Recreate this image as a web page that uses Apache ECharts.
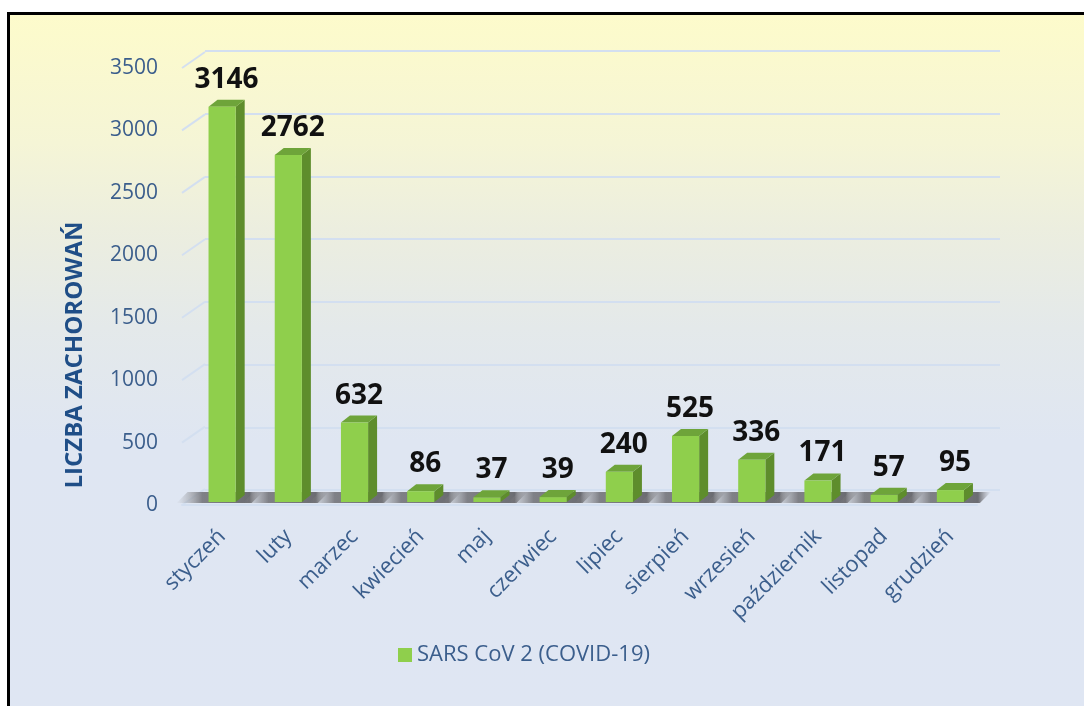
<!DOCTYPE html>
<html>
<head>
<meta charset="utf-8">
<script src="https://cdn.jsdelivr.net/npm/echarts@6/dist/echarts.min.js"></script>
<style>
  html, body { margin: 0; padding: 0; background: #ffffff; width: 1084px; height: 706px; overflow: hidden; }
  #frame { position: absolute; left: 7px; top: 12px; width: 1090px; height: 710px;
    border-left: 3px solid #000; border-top: 3px solid #000;
    background: linear-gradient(to bottom, #fdfbcb 0%, #f5f5d6 18%, #eceedf 30%, #e4e9ea 44%, #dfe6f2 60%, #dfe6f3 100%); }
  #chart { position: absolute; left: 0; top: 0; width: 1084px; height: 706px; }
</style>
</head>
<body>
<div id="frame"></div>
<div id="chart"></div>
<script>
// ---- data ----
const categories = ['styczeń','luty','marzec','kwiecień','maj','czerwiec','lipiec','sierpień','wrzesień','październik','listopad','grudzień'];
const values = [3146, 2762, 632, 86, 37, 39, 240, 525, 336, 171, 57, 95];
const seriesName = 'SARS CoV 2 (COVID-19)';
const axisTitle = 'LICZBA ZACHOROWAŃ';
const yTicks = [0, 500, 1000, 1500, 2000, 2500, 3000, 3500];
const yMin = 0, yMax = 3500, yInterval = 500;

// ---- styles ----
const FONT = '"Open Sans", "Noto Sans", sans-serif';
const axisTextColor = '#3b5e8c';
const gridColor = '#d3dff0';
const DX = 9, DY = -7;        // bar depth offset
const WALL_DX = 23, WALL_DY = -16; // front plane -> back wall offset

const chart = echarts.init(document.getElementById('chart'), null, { renderer: 'canvas' });

function barGeom(params, api) {
  const idx = api.value(0), v = api.value(1);
  const base = api.coord([idx, 0]);
  const top = api.coord([idx, v]);
  const w = api.size([1, 0])[0] * 0.41;
  const xl = base[0] - w / 2, xr = xl + w;
  return { xl, xr, yb: base[1], yt: top[1], w, v };
}

const option = {
  animation: false,
  textStyle: { fontFamily: FONT },
  grid: [
    { left: 189, right: 100.5, top: 62.4, bottom: 204 },  // bars
    { left: 182, right: 107, top: 68, bottom: 201 },       // front plane (labels)
    { left: 205, right: 84, top: 51, bottom: 216 }         // back wall (grid lines)
  ],
  graphic: [
    { type: 'text', x: 75, y: 355, rotation: Math.PI / 2, silent: true,
      style: { text: axisTitle, align: 'center', verticalAlign: 'middle',
        fill: '#1f4e87', fontSize: 24, fontWeight: 'bold', fontFamily: FONT } }
  ],
  xAxis: [
    { type: 'category', gridIndex: 0, data: categories,
      axisLine: { show: false }, axisTick: { show: false },
      axisLabel: { rotate: 45, margin: 31, color: axisTextColor, fontSize: 22, fontFamily: FONT, interval: 0 } },
    { type: 'value', gridIndex: 1, min: 0, max: 1,
      axisLine: { show: true, lineStyle: { color: gridColor, width: 2 } },
      axisTick: { show: false }, axisLabel: { show: false }, splitLine: { show: false } },
    { type: 'value', gridIndex: 2, min: 0, max: 1, show: false }
  ],
  yAxis: [
    { type: 'value', gridIndex: 0, min: yMin, max: yMax, interval: yInterval, show: false },
    { type: 'value', gridIndex: 1, min: yMin, max: yMax, interval: yInterval,
      axisLine: { show: false }, axisTick: { show: false }, splitLine: { show: false },
      axisLabel: { margin: 24, color: axisTextColor, fontSize: 21, fontFamily: FONT,
        formatter: v => String(v) } },
    { type: 'value', gridIndex: 2, min: yMin, max: yMax, interval: yInterval,
      axisLine: { show: false }, axisTick: { show: false }, axisLabel: { show: false },
      splitLine: { show: true, lineStyle: { color: gridColor, width: 2 } } }
  ],
  legend: {
    data: [seriesName], left: 393, top: 639,
    icon: 'rect', itemWidth: 14, itemHeight: 14, itemGap: 6,
    textStyle: { color: axisTextColor, fontSize: 22, fontFamily: FONT }
  },
  series: [
    { // diagonal connectors of the 3D wall grid
      type: 'custom', name: 'wall', xAxisIndex: 1, yAxisIndex: 1, silent: true, z: 1,
      data: yTicks.map(v => [0, v]),
      renderItem: function (params, api) {
        const p = api.coord([0, api.value(1)]);
        return { type: 'line', shape: { x1: p[0], y1: p[1], x2: p[0] + WALL_DX, y2: p[1] + WALL_DY },
          style: { stroke: gridColor, lineWidth: 2 } };
      }
    },
    { // floor shadows
      type: 'custom', name: 'shadow', xAxisIndex: 0, yAxisIndex: 0, silent: true, z: 2,
      data: values.map((v, i) => [i, v]),
      renderItem: function (params, api) {
        const g = barGeom(params, api);
        const x0 = g.xl - 32, x1 = g.xr + 16, y0 = g.yb + 1, sh = -11, sx = 11;
        return { type: 'polygon',
          shape: { points: [[x0, y0], [x1, y0], [x1 + sx, y0 + sh], [x0 + sx, y0 + sh]] },
          style: { fill: new echarts.graphic.LinearGradient(0, 0, 1, 0, [
            { offset: 0, color: 'rgba(150,150,150,0)' },
            { offset: 0.3, color: 'rgba(110,110,115,0.85)' },
            { offset: 0.85, color: 'rgba(95,95,100,0.9)' },
            { offset: 1, color: 'rgba(140,140,145,0)' }
          ]) } };
      }
    },
    { // 3D bars
      type: 'custom', name: seriesName, xAxisIndex: 0, yAxisIndex: 0, z: 3,
      itemStyle: { color: '#8fcf4c' },
      data: values.map((v, i) => [i, v]),
      renderItem: function (params, api) {
        const g = barGeom(params, api);
        const { xl, xr, yb, yt, w, v } = g;
        return { type: 'group', children: [
          { type: 'polygon', shape: { points: [[xr, yb], [xr, yt], [xr + DX, yt + DY], [xr + DX, yb + DY]] },
            style: { fill: '#5e8d2c' } },
          { type: 'polygon', shape: { points: [[xl, yt], [xr, yt], [xr + DX, yt + DY], [xl + DX, yt + DY]] },
            style: { fill: '#6ea43a' } },
          { type: 'rect', shape: { x: xl, y: yt, width: w, height: yb - yt },
            style: { fill: '#8fcf4c' } },
          { type: 'text', style: { text: String(v), x: (xl + xr + DX) / 2, y: yt + DY - 6,
            align: 'center', verticalAlign: 'bottom',
            fontSize: 28, fontWeight: 'bold', fontFamily: FONT, fill: '#111111' } }
        ] };
      }
    }
  ]
};
chart.setOption(option);
</script>
</body>
</html>
